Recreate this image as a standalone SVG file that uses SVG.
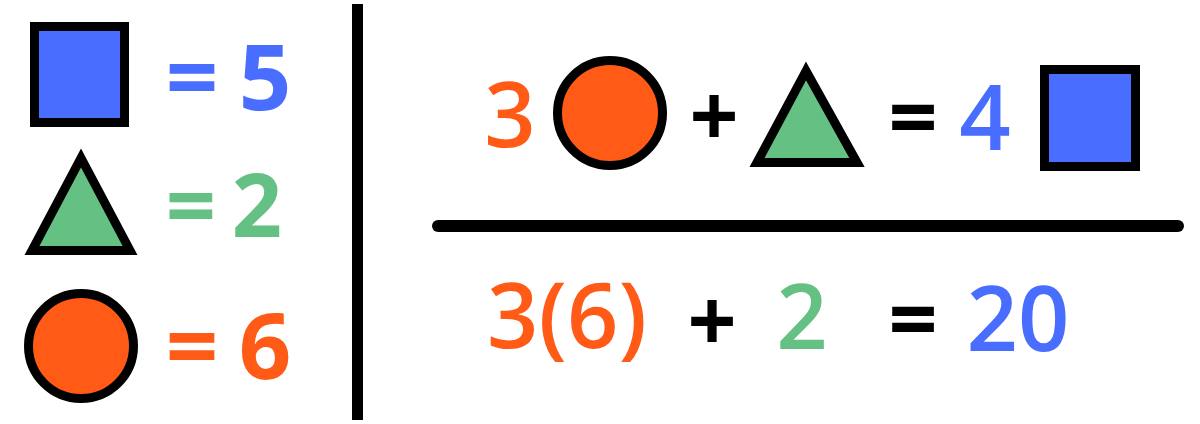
<svg xmlns="http://www.w3.org/2000/svg" width="1200" height="424" viewBox="0 0 1200 424">
<style>
.shape{stroke:#000;stroke-width:9;stroke-linejoin:miter}
.blue{fill:#486dff}
.green{fill:#64c183}
.orange{fill:#ff5a16}
.blk{fill:#000}
text{font-family:"Open Sans","Noto Sans","DejaVu Sans",sans-serif;text-anchor:middle}
.l{font-weight:700;font-size:92px}
.r{font-weight:600;font-size:90px}
.op{font-weight:700;font-size:86px}
</style>
<rect width="1200" height="424" fill="#fff"/>
<g id="dividers">
<line x1="357.5" y1="4" x2="357.5" y2="420" stroke="#000" stroke-width="11"/>
<line x1="438" y1="226" x2="1178" y2="226" stroke="#000" stroke-width="12" stroke-linecap="round"/>
</g>
<g id="legend-square">
<rect class="shape blue" x="34.5" y="26.5" width="90" height="96"/>
<text class="l blue" x="192" y="110">=</text>
<text class="l blue" x="265" y="110">5</text>
</g>
<g id="legend-triangle">
<polygon class="shape green" points="81,158 32,250.5 130,250.5"/>
<text class="l green" x="191" y="237" style="font-size:88px">=</text>
<text class="l green" x="257" y="237" style="font-size:88px">2</text>
</g>
<g id="legend-circle">
<circle class="shape orange" cx="81" cy="346" r="52.5"/>
<text class="l orange" x="192" y="379">=</text>
<text class="l orange" x="265" y="379">6</text>
</g>
<g id="equation">
<text class="r orange" x="510" y="147">3</text>
<circle class="shape orange" cx="610" cy="113" r="52.5"/>
<text class="op blk" x="714" y="147">+</text>
<polygon class="shape green" points="806,71 757,162.5 857,162.5"/>
<text class="op blk" x="913" y="148">=</text>
<text class="r blue" x="985" y="150">4</text>
<rect class="shape blue" x="1044.5" y="69.5" width="91" height="97"/>
</g>
<g id="substitution">
<text class="r orange" x="567" y="348">3(6)</text>
<text class="op blk" x="712" y="352">+</text>
<text class="r green" x="802" y="349">2</text>
<text class="op blk" x="913" y="350">=</text>
<text class="r blue" x="1018" y="351">20</text>
</g>
</svg>
